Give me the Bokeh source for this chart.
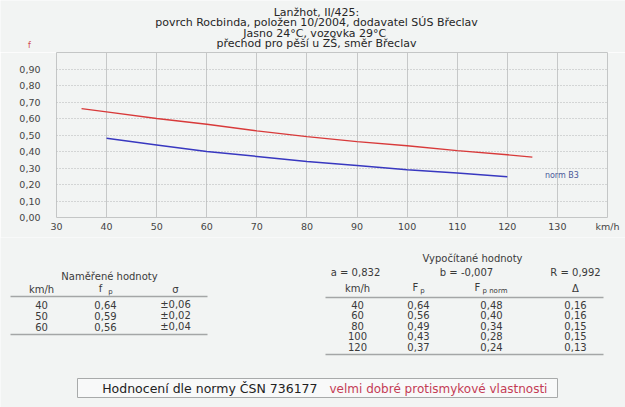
from bokeh.plotting import figure
from bokeh.models import Range1d, FixedTicker, CustomJSTickFormatter
from bokeh.layouts import column
from bokeh.embed import file_html
from bokeh.resources import INLINE
from bokeh.core.properties import value

# ---------------- data ----------------
title_lines = [
    "Lanžhot, II/425:",
    "povrch Rocbinda, položen 10/2004, dodavatel SÚS Břeclav",
    "Jasno 24°C,  vozovka 29°C",
    "přechod pro pěší u ZŠ, směr Břeclav",
]
y_label = "f"
x_unit = "km/h"

speed_fp = [35, 40, 50, 60, 70, 80, 90, 100, 110, 120, 125]
fp_curve = [0.66, 0.64, 0.60, 0.565, 0.525, 0.49, 0.46, 0.435, 0.405, 0.38, 0.366]
speed_norm = [40, 50, 60, 70, 80, 90, 100, 110, 120]
fp_norm_curve = [0.48, 0.44, 0.40, 0.37, 0.34, 0.315, 0.29, 0.27, 0.247]
norm_label = "norm B3"

x_ticks = [30, 40, 50, 60, 70, 80, 90, 100, 110, 120, 130, 140]
y_ticks = [0.0, 0.1, 0.2, 0.3, 0.4, 0.5, 0.6, 0.7, 0.8, 0.9]

meas_title = "Naměřené hodnoty"
meas_kmh = [40, 50, 60]
meas_fp = [0.64, 0.59, 0.56]
meas_sigma = [0.06, 0.02, 0.04]

calc_title = "Vypočítané hodnoty"
coef_a = 0.832
coef_b = -0.007
coef_R = 0.992
calc_kmh = [40, 60, 80, 100, 120]
calc_Fp = [0.64, 0.56, 0.49, 0.43, 0.37]
calc_Fp_norm = [0.48, 0.40, 0.34, 0.28, 0.24]
calc_delta = [0.16, 0.16, 0.15, 0.15, 0.13]

verdict_prefix = "Hodnocení dle normy ČSN 736177"
verdict = "velmi dobré protismykové vlastnosti"

# ---------------- style ----------------
W = 625
BG = "#f2f4f3"
FONT = "DejaVu Sans"
TXT = "#3a3a3a"
RULE = "#a4a6a6"


def cz(v, d=2):
    return f"{v:.{d}f}".replace(".", ",")


def blank(h):
    f = figure(width=W, height=h, x_range=Range1d(0, W), y_range=Range1d(h, 0),
               output_backend="svg", toolbar_location=None, min_border=0,
               x_axis_location=None, y_axis_location=None, frame_align=False)
    f.grid.visible = False
    f.outline_line_color = None
    f.background_fill_color = BG
    f.border_fill_color = BG
    return f


def txt(f, xs, ys, texts, size="10px", color=TXT, align="center", baseline="middle"):
    f.text(x=xs, y=ys, text=texts, text_font=value(FONT), text_font_size=size,
           text_color=color, text_align=align, text_baseline=baseline)


# ---------------- header (page y 0..52) ----------------
H1 = 52
head = blank(H1)
txt(head, [316] * 4, [11.5, 22, 32.5, 43], title_lines, size="11px",
    color="#262626", baseline="alphabetic")
txt(head, [29], [45], [y_label], size="8px", color="#d04848")

# ---------------- chart (page y 52..237) ----------------
H2 = 185
p = figure(width=W, height=H2, x_range=Range1d(30, 140), y_range=Range1d(0, 1),
           output_backend="svg", toolbar_location=None, frame_align=False,
           min_border_left=56, min_border_right=18, min_border_top=0, min_border_bottom=20)
p.background_fill_color = BG
p.border_fill_color = BG
p.outline_line_color = "#c4c6c6"

p.xaxis.ticker = FixedTicker(ticks=x_ticks)
p.xaxis.formatter = CustomJSTickFormatter(code="return tick >= 140 ? '%s' : tick.toFixed(0);" % x_unit)
p.yaxis.ticker = FixedTicker(ticks=y_ticks)
p.yaxis.formatter = CustomJSTickFormatter(code="return tick.toFixed(2).replace('.', ',');")
for ax in (p.xaxis, p.yaxis):
    ax.axis_line_color = None
    ax.major_tick_line_color = None
    ax.minor_tick_line_color = None
    ax.major_tick_out = 0
    ax.major_tick_in = 0
    ax.minor_tick_out = 0
    ax.minor_tick_in = 0
    ax.major_label_text_font = FONT
    ax.major_label_text_font_size = "9.5px"
    ax.major_label_text_color = "#444444"
p.xaxis.major_label_standoff = 3
p.yaxis.major_label_standoff = 16

p.xgrid.grid_line_color = "#c6c8c8"
p.xgrid.grid_line_width = 1
p.ygrid.grid_line_color = "#b4b6b6"
p.ygrid.grid_line_dash = "1 2"

p.line(speed_fp, fp_curve, line_color="#d83a3a", line_width=1.4)
p.line(speed_norm, fp_norm_curve, line_color="#3838c0", line_width=1.5)
p.text(x=[speed_norm[-1] + 7.5], y=[fp_norm_curve[-1] + 0.006], text=[norm_label],
       text_font=value(FONT), text_font_size="8px", text_color="#4a5a9a",
       text_baseline="middle", text_align="left")

# ---------------- tables (page y 237..407) ----------------
H3 = 170
t = blank(H3)

# measured table
txt(t, [109], [39], [meas_title])
txt(t, [41, 175], [52, 52], ["km/h", "σ"])
txt(t, [100], [51], ["f"])
txt(t, [110], [54], ["p"], size="7px")
t.segment(x0=[10, 10], y0=[59, 97], x1=[207, 207], y1=[59, 97], line_color=RULE, line_width=1.5)
rows1 = [67, 78, 89]
txt(t, [41] * 3, rows1, [str(v) for v in meas_kmh])
txt(t, [105] * 3, rows1, [cz(v) for v in meas_fp])
txt(t, [175] * 3, rows1, ["±" + cz(v) for v in meas_sigma])

# calculated table
txt(t, [472], [21], [calc_title])
txt(t, [355, 466, 575], [35] * 3,
    ["a = " + cz(coef_a, 3), "b = " + cz(coef_b, 3), "R = " + cz(coef_R, 3)])
txt(t, [357, 575], [51, 51], ["km/h", "Δ"])
txt(t, [415, 477], [50, 50], ["F", "F"])
txt(t, [422], [53], ["p"], size="7px")
txt(t, [482], [53], ["p norm"], size="7px", align="left")
t.segment(x0=[325, 325], y0=[60, 117], x1=[603, 603], y1=[60, 117], line_color=RULE, line_width=1.5)
rows2 = [67, 77.5, 88, 98.5, 109]
txt(t, [357] * 5, rows2, [str(v) for v in calc_kmh])
txt(t, [418] * 5, rows2, [cz(v) for v in calc_Fp])
txt(t, [491] * 5, rows2, [cz(v) for v in calc_Fp_norm])
txt(t, [575] * 5, rows2, [cz(v) for v in calc_delta])

# verdict box
t.quad(left=[77], right=[557], top=[141], bottom=[160], fill_color="#f8f9f9",
       line_color="#a8aaaa", line_width=1)
txt(t, [317], [151], [verdict_prefix], size="12.5px", color="#222222", align="right")
txt(t, [329], [151], [verdict], size="12px", color="#c43c55", align="left")

layout = column(head, p, t, spacing=0)
open("out.html", "w").write(file_html(layout, INLINE))
